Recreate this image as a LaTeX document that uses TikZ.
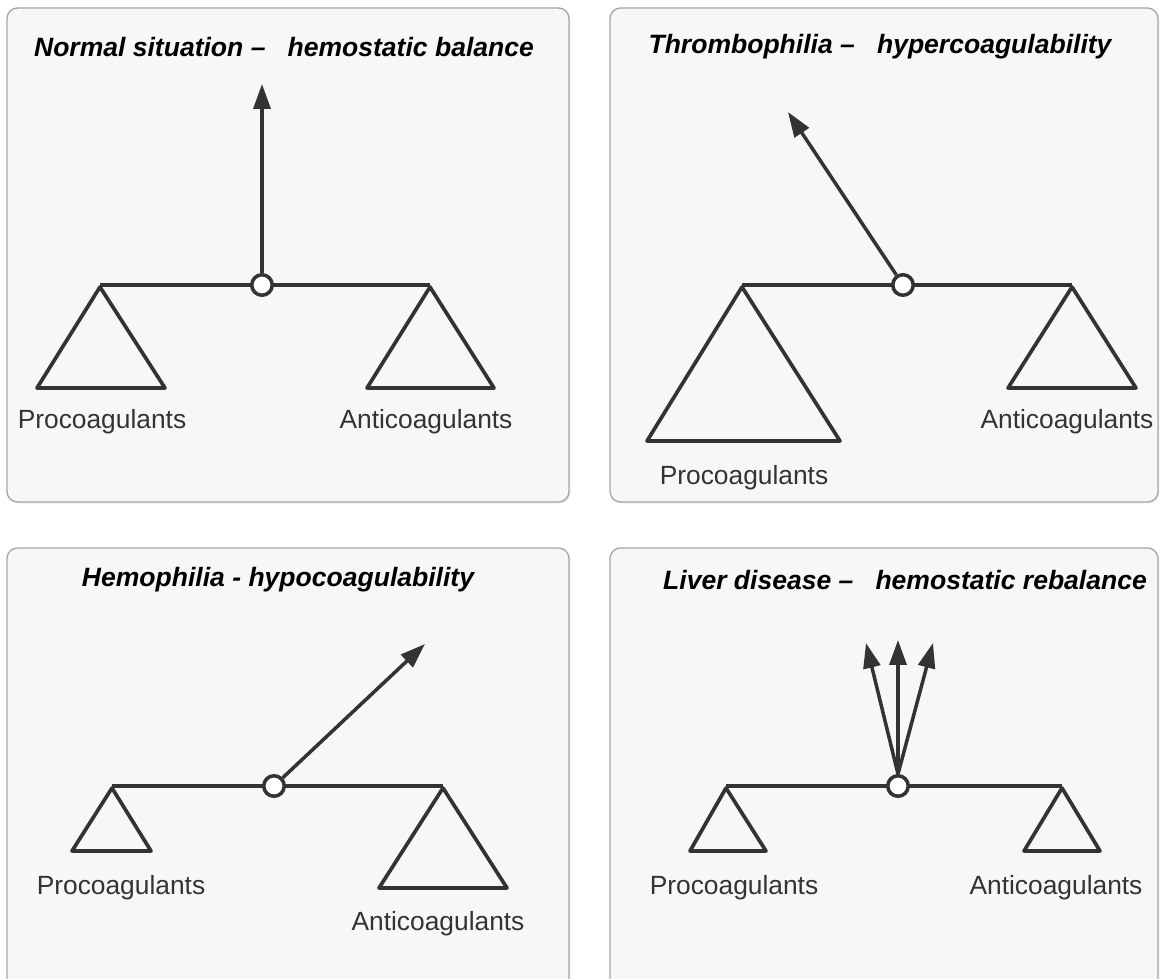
\documentclass[tikz,border=0pt]{standalone}
\usepackage{fontspec}
\setmainfont{Liberation Sans}
\usetikzlibrary{arrows.meta,shadows}

\definecolor{inkgray}{HTML}{333333}
\definecolor{panelfill}{HTML}{F7F7F7}
\definecolor{panelline}{HTML}{A8A8A8}

\tikzset{
  panel/.style={draw=panelline, fill=panelfill, rounded corners=6pt, line width=0.8pt,
    drop shadow={opacity=0.18, shadow xshift=0.8pt, shadow yshift=-0.8pt}},
  beam/.style={draw=inkgray, line width=2pt},
  pan/.style={draw=inkgray, line width=2.1pt, line join=round},
  pivot/.style={circle, draw=inkgray, fill=white, line width=2pt, minimum size=0.41cm, inner sep=0pt},
  tilt/.style={draw=inkgray, line width=2pt, -{Triangle[length=0.5cm,width=0.34cm]}},
  heading/.style={font=\fontsize{15.1}{18}\selectfont\bfseries\itshape, text=black},
  side/.style={font=\fontsize{15}{18}\selectfont, text=inkgray},
}

\begin{document}
\begin{tikzpicture}[x=0.02cm, y=-0.02cm]
    \useasboundingbox (0,0) rectangle (1160,979);

    % four panels
    \draw[panel] (7,8) rectangle (569,502);
    \draw[panel] (610,8) rectangle (1158,502);
    \draw[panel] (7,548) rectangle (569,1000);
    \draw[panel] (610,548) rectangle (1158,1000);

    % normal situation
    \node[heading] (h1) at (284,47) {Normal situation --\ \ \ hemostatic balance};
    \draw[pan] (100,287) -- (37,388) -- (165,388) -- cycle;
    \draw[pan] (430,287) -- (367,388) -- (494,388) -- cycle;
    \draw[beam] (100,285) -- (430,285);
    \node[pivot] (p1) at (262,285) {};
    \coordinate (t1) at (262,84);
    \draw[tilt] (p1) -- (t1);
    \node[side] (pro1) at (102,422) {Procoagulants};
    \node[side] (anti1) at (426,422) {Anticoagulants};

    % thrombophilia
    \node[heading] (h2) at (880,47) {Thrombophilia --\ \ \ hypercoagulability};
    \draw[pan] (742,287) -- (647,441) -- (840,441) -- cycle;
    \draw[pan] (1072,287) -- (1008,388) -- (1136,388) -- cycle;
    \draw[beam] (742,285) -- (1072,285);
    \node[pivot] (p2) at (903,285) {};
    \coordinate (t2) at (788,112);
    \draw[tilt] (p2) -- (t2);
    \node[side] (pro2) at (744,478) {Procoagulants};
    \node[side] (anti2) at (1067,422) {Anticoagulants};

    % hemophilia
    \node[heading] (h3) at (278,580) {Hemophilia - hypocoagulability};
    \draw[pan] (112,788) -- (72,851) -- (151,851) -- cycle;
    \draw[pan] (443,788) -- (379,888) -- (507,888) -- cycle;
    \draw[beam] (112,786) -- (443,786);
    \node[pivot] (p3) at (274,786) {};
    \coordinate (t3) at (425,644);
    \draw[tilt] (p3) -- (t3);
    \node[side] (pro3) at (121,888) {Procoagulants};
    \node[side] (anti3) at (438,924) {Anticoagulants};

    % liver disease
    \node[heading] (h4) at (905,580) {Liver disease --\ \ \ hemostatic rebalance};
    \draw[pan] (726,788) -- (690,851) -- (766,851) -- cycle;
    \draw[pan] (1062,788) -- (1024,851) -- (1100,851) -- cycle;
    \draw[beam] (726,786) -- (1062,786);
    \node[pivot] (p4) at (898,786) {};
    \coordinate (t4a) at (866,643);
    \coordinate (t4b) at (898,640);
    \coordinate (t4c) at (933,643);
    \foreach \t in {t4a,t4b,t4c}
        \draw[tilt] (p4.north) -- (\t);
    \node[side] (pro4) at (734,888) {Procoagulants};
    \node[side] (anti4) at (1056,888) {Anticoagulants};
\end{tikzpicture}
\end{document}
